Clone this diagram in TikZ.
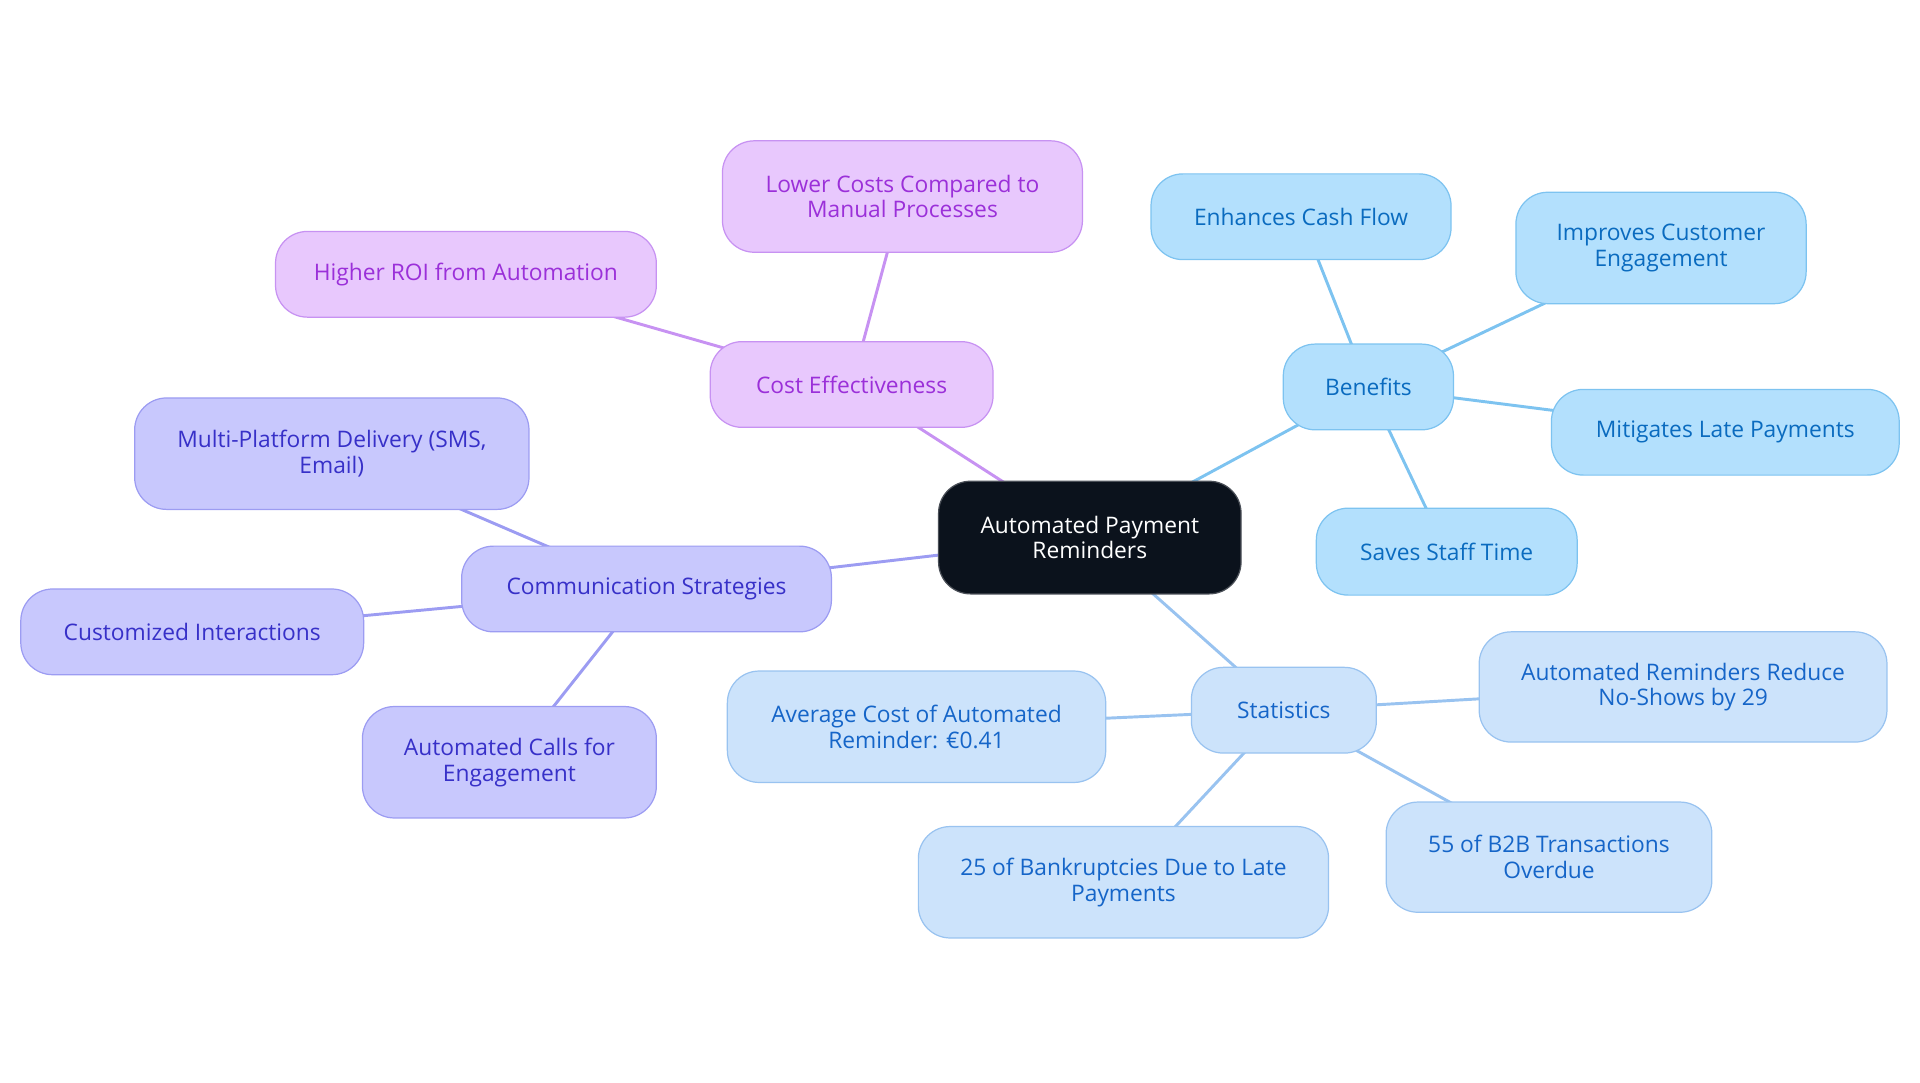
\documentclass[tikz,border=0pt]{standalone}
\usepackage{fontspec}
\setmainfont{Open Sans}
\usetikzlibrary{backgrounds}
\definecolor{pfill}{HTML}{E8C8FD}
\definecolor{pdraw}{HTML}{C792F2}
\definecolor{ptext}{HTML}{9B30D9}
\definecolor{ifill}{HTML}{C8C8FD}
\definecolor{idraw}{HTML}{9C9CF2}
\definecolor{itext}{HTML}{3730C8}
\definecolor{bfill}{HTML}{B3E0FD}
\definecolor{bdraw}{HTML}{7DC3F0}
\definecolor{btext}{HTML}{0A6BBF}
\definecolor{sfill}{HTML}{CCE3FB}
\definecolor{sdraw}{HTML}{99C3F0}
\definecolor{stext}{HTML}{1565C8}
\definecolor{cfill}{HTML}{0B121C}
\definecolor{cdraw}{HTML}{4A4F57}
\tikzset{
  box/.style={rounded corners=26pt, inner sep=0pt, align=center, line width=1pt,
    font=\fontsize{18.6}{21}\selectfont},
  central/.style={box, fill=cfill, draw=cdraw, text=white},
  pbox/.style={box, fill=pfill, draw=pdraw, text=ptext},
  ibox/.style={box, fill=ifill, draw=idraw, text=itext},
  bbox/.style={box, fill=bfill, draw=bdraw, text=btext},
  sbox/.style={box, fill=sfill, draw=sdraw, text=stext},
  pline/.style={draw=pdraw, line width=2.4pt},
  iline/.style={draw=idraw, line width=2.4pt},
  bline/.style={draw=bdraw, line width=2.4pt},
  sline/.style={draw=sdraw, line width=2.4pt},
  sz/.style 2 args={minimum width=#1pt, minimum height=#2pt},
}
\begin{document}
\begin{tikzpicture}[x=1pt,y=-1pt]
\useasboundingbox (0,0) rectangle (1568,884);
% central
\node[central, sz={247}{92}] (c) at (890,439) {Automated Payment\\Reminders};
% cost
\node[pbox, sz={231}{70}] (ce) at (695.5,314) {Cost Effectiveness};
\node[pbox, sz={294}{91}] (lc) at (737,160.5) {Lower Costs Compared to\\Manual Processes};
\node[pbox, sz={311}{70}] (hr) at (380.5,224) {Higher ROI from Automation};
% communication
\node[ibox, sz={302}{70}] (cs) at (528,481) {Communication Strategies};
\node[ibox, sz={322}{91}] (mp) at (271,370.5) {Multi-Platform Delivery (SMS,\\Email)};
\node[ibox, sz={280}{70}] (ci) at (157,516) {Customized Interactions};
\node[ibox, sz={240}{91}] (ac) at (416,622.5) {Automated Calls for\\Engagement};
% benefits
\node[bbox, sz={139}{70}] (b) at (1117.5,316) {Benefits};
\node[bbox, sz={245}{70}] (ec) at (1062.5,177) {Enhances Cash Flow};
\node[bbox, sz={237}{91}] (ic) at (1356.5,202.5) {Improves Customer\\Engagement};
\node[bbox, sz={284}{70}] (ml) at (1409,353) {Mitigates Late Payments};
\node[bbox, sz={213}{71}] (st) at (1181.5,450.5) {Saves Staff Time};
% statistics
\node[sbox, sz={151}{70}] (s) at (1048.5,580) {Statistics};
\node[sbox, sz={333}{90}] (ar) at (1374.5,561) {Automated Reminders Reduce\\No-Shows by 29};
\node[sbox, sz={309}{91}] (av) at (748.5,593.5) {Average Cost of Automated\\Reminder: €0.41};
\node[sbox, sz={335}{91}] (bk) at (917.5,720.5) {25 of Bankruptcies Due to Late\\Payments};
\node[sbox, sz={266}{90}] (bb) at (1265,700) {55 of B2B Transactions\\Overdue};
\begin{scope}[on background layer]
\draw[pline] (c.center) -- (ce.center);
\draw[pline] (ce.center) -- (lc.center);
\draw[pline] (ce.center) -- (hr.center);
\draw[iline] (c.center) -- (cs.center);
\draw[iline] (cs.center) -- (mp.center);
\draw[iline] (cs.center) -- (ci.center);
\draw[iline] (cs.center) -- (ac.center);
\draw[bline] (c.center) -- (b.center);
\draw[bline] (b.center) -- (ec.center);
\draw[bline] (b.center) -- (ic.center);
\draw[bline] (b.center) -- (ml.center);
\draw[bline] (b.center) -- (st.center);
\draw[sline] (c.center) -- (s.center);
\draw[sline] (s.center) -- (ar.center);
\draw[sline] (s.center) -- (av.center);
\draw[sline] (s.center) -- (bk.center);
\draw[sline] (s.center) -- (bb.center);
\end{scope}
\end{tikzpicture}
\end{document}
